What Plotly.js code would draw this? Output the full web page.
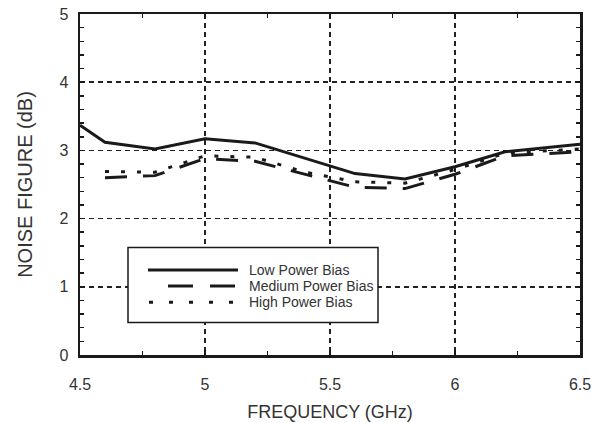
<!DOCTYPE html>
<html><head><meta charset="utf-8">
<script src="https://cdn.plot.ly/plotly-3.0.1.min.js"></script>
<style>body{margin:0;background:#fff}#c{width:597px;height:423px}</style>
</head><body><div id="c"></div>
<script>
const seriesNames = ["Low Power Bias", "Medium Power Bias", "High Power Bias"];
const lowFreq = [4.5, 4.6, 4.8, 5.0, 5.2, 5.6, 5.8, 6.0, 6.2, 6.5];
const lowNF   = [3.37, 3.12, 3.02, 3.17, 3.11, 2.66, 2.58, 2.76, 2.98, 3.09];
const medFreq = [4.6, 4.8, 5.0, 5.2, 5.6, 5.8, 6.0, 6.2, 6.5];
const medNF   = [2.60, 2.63, 2.88, 2.84, 2.46, 2.44, 2.65, 2.92, 2.98];
const highFreq = [4.6, 4.8, 5.0, 5.2, 5.4, 5.6, 5.8, 6.0, 6.2, 6.5];
const highNF   = [2.69, 2.68, 2.92, 2.90, 2.68, 2.54, 2.52, 2.72, 2.96, 3.02];
const xTicks = [4.5, 5, 5.5, 6, 6.5];
const yTicks = [0, 1, 2, 3, 4, 5];

const plotDashes = ["solid", "22px,16px", "4px,12px"];
const legendDashes = ["solid", "25px,17px", "4px,16px"];
const family = "Liberation Sans, Arial, sans-serif";
const tickFont = {family: family, size: 16, color: "#333"};

const traces = [
  {x: highFreq, y: highNF, name: seriesNames[2], d: 2},
  {x: medFreq, y: medNF, name: seriesNames[1], d: 1},
  {x: lowFreq, y: lowNF, name: seriesNames[0], d: 0}
].map(t => ({
  x: t.x, y: t.y, name: t.name,
  type: "scatter", mode: "lines", showlegend: false,
  line: {color: "#1a1a1a", width: 3, dash: plotDashes[t.d]}
}));

const axisCommon = {
  showline: true, mirror: "ticks", linecolor: "#1a1a1a", linewidth: 2.5,
  ticks: "inside", ticklen: 5, tickcolor: "#1a1a1a", tickwidth: 1.5,
  showgrid: true, gridcolor: "#222", gridwidth: 1.5, griddash: "5px,4px",
  zeroline: false, tickfont: tickFont
};

// custom legend (box, samples, labels) in paper coordinates
const shapes = [{type: "rect", xref: "paper", yref: "paper", x0: 0.096, x1: 0.596, y0: 0.095, y1: 0.315,
  line: {color: "#1a1a1a", width: 1.5}, fillcolor: "#fff", layer: "above"}];
const annotations = [];
const rowY = [0.249, 0.202, 0.155];
const sampleX0 = [0.136, 0.176, 0.138];
const sampleX1 = [0.316, 0.312, 0.316];
seriesNames.forEach((n, i) => {
  shapes.push({type: "line", xref: "paper", yref: "paper", x0: sampleX0[i], x1: sampleX1[i], y0: rowY[i], y1: rowY[i],
    line: {color: "#1a1a1a", width: 3, dash: legendDashes[i]}, layer: "above"});
  annotations.push({xref: "paper", yref: "paper", x: 0.334, y: rowY[i], xanchor: "left", yanchor: "middle",
    text: n, showarrow: false, font: {family: family, size: 14, color: "#333"}});
});

const layout = {
  width: 597, height: 423,
  margin: {l: 80, r: 17, t: 14, b: 68},
  paper_bgcolor: "#fff", plot_bgcolor: "#fff",
  xaxis: Object.assign({}, axisCommon, {range: [4.5, 6.5], tickvals: xTicks, ticktext: xTicks.map(String),
    minor: {dtick: 0.25, ticks: "inside", ticklen: 4, tickcolor: "#1a1a1a", showgrid: false},
    ticklabelstandoff: 13,
    title: {text: "FREQUENCY (GHz)", font: {family: family, size: 18, color: "#333"}, standoff: 14}}),
  yaxis: Object.assign({}, axisCommon, {range: [0, 5], tickvals: yTicks,
    minor: {dtick: 0.2, ticks: "inside", ticklen: 4, tickcolor: "#1a1a1a", showgrid: false},
    ticklabelstandoff: 6,
    title: {text: "NOISE FIGURE (dB)", font: {family: family, size: 20, color: "#333"}, standoff: 22}}),
  shapes: shapes, annotations: annotations, showlegend: false
};
Plotly.newPlot("c", traces, layout, {staticPlot: true});
</script></body></html>
